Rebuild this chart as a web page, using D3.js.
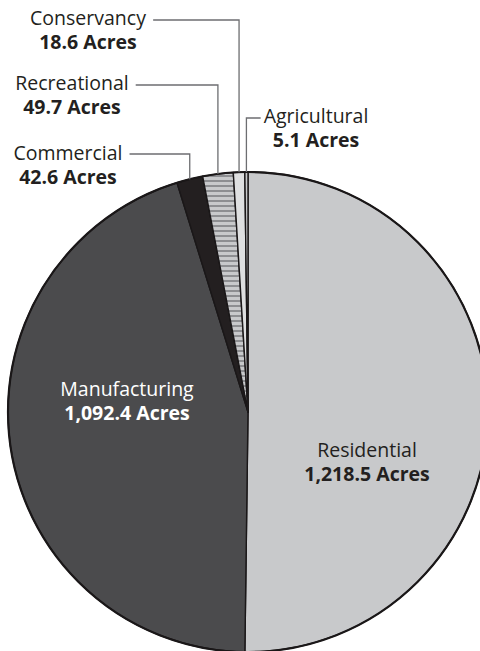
<!DOCTYPE html>
<html>
<head>
<meta charset="utf-8">
<script src="https://cdn.jsdelivr.net/npm/d3@7"></script>
<style>
  html, body { margin: 0; padding: 0; background: #fff; overflow: hidden; }
  svg { display: block; }
  text { font-family: "Open Sans", sans-serif; }
</style>
</head>
<body>
<svg id="chart" width="480" height="651"></svg>
<script>
// Land use by category, in acres (clockwise from 12 o'clock)
const categories = ["Residential", "Manufacturing", "Commercial", "Recreational", "Conservancy", "Agricultural"];
const acres = [1218.5, 1092.4, 42.6, 49.7, 18.6, 5.1];

const fills = {
  Residential: "#c8c9cb",
  Manufacturing: "#4b4b4d",
  Commercial: "#231f20",
  Recreational: "url(#stripes)",
  Conservancy: "#dedfe0",
  Agricultural: "#c8c9cb"
};

const W = 480, H = 651;
const cx = 248, cy = 412, R = 240;

const svg = d3.select("#chart");

// horizontal hatching for the recreational slice
const defs = svg.append("defs");
const pat = defs.append("pattern")
  .attr("id", "stripes")
  .attr("patternUnits", "userSpaceOnUse")
  .attr("width", 10).attr("height", 5);
pat.append("rect").attr("width", 10).attr("height", 5).attr("fill", "#c8c9cb");
pat.append("rect").attr("y", 3).attr("width", 10).attr("height", 2).attr("fill", "#8d8e91");

const data = categories.map((c, i) => ({ category: c, value: acres[i] }));

const pie = d3.pie().sort(null).value(d => d.value).startAngle(0).endAngle(2 * Math.PI);
const arcs = pie(data);
const arc = d3.arc().innerRadius(0).outerRadius(R);

const g = svg.append("g").attr("transform", `translate(${cx},${cy})`);

g.selectAll("path.slice")
  .data(arcs)
  .join("path")
  .attr("class", "slice")
  .attr("d", arc)
  .attr("fill", d => fills[d.data.category])
  .attr("stroke", "#1a1718")
  .attr("stroke-width", 1.4)
  .attr("stroke-linejoin", "round");

// outer rim
g.append("circle")
  .attr("r", R)
  .attr("fill", "none")
  .attr("stroke", "#1a1718")
  .attr("stroke-width", 2.2);

const fmt = d3.format(",.1f");

// label placement: centre x, baseline of first line, colour, and for
// outside labels the height of the leader's horizontal run
const labelLayout = {
  Residential:   { x: 367, y: 457, color: "#231f20" },
  Manufacturing: { x: 127, y: 396, color: "#ffffff" },
  Commercial:    { x: 68,  y: 160, color: "#231f20", leaderY: 154, side: "left" },
  Recreational:  { x: 72,  y: 90,  color: "#231f20", leaderY: 85,  side: "left" },
  Conservancy:   { x: 88,  y: 25,  color: "#231f20", leaderY: 20,  side: "left" },
  Agricultural:  { x: 316, y: 123, color: "#231f20", leaderY: 118, side: "right" }
};

const labels = svg.append("g");

arcs.forEach(a => {
  const cat = a.data.category;
  const L = labelLayout[cat];
  const t = labels.append("text")
    .attr("x", L.x).attr("y", L.y)
    .attr("text-anchor", "middle")
    .attr("fill", L.color);
  t.append("tspan")
    .attr("x", L.x).attr("font-size", 19.5).attr("font-weight", 400)
    .text(cat);
  t.append("tspan")
    .attr("x", L.x).attr("dy", 24).attr("font-size", 19.5).attr("font-weight", 700)
    .text(fmt(a.data.value) + " Acres");

  if (L.leaderY !== undefined) {
    const mid = (a.startAngle + a.endAngle) / 2;
    const px = cx + R * Math.sin(mid);
    const py = cy - R * Math.cos(mid);
    const first = t.select("tspan").node();
    const bb = first.getBBox();
    const sx = L.side === "left" ? bb.x + bb.width + 7 : bb.x - 3;
    labels.append("path")
      .attr("d", `M${sx},${L.leaderY}H${px}V${py}`)
      .attr("fill", "none")
      .attr("stroke", "#6d6e71")
      .attr("stroke-width", 1.3);
  }
});
</script>
</body>
</html>
